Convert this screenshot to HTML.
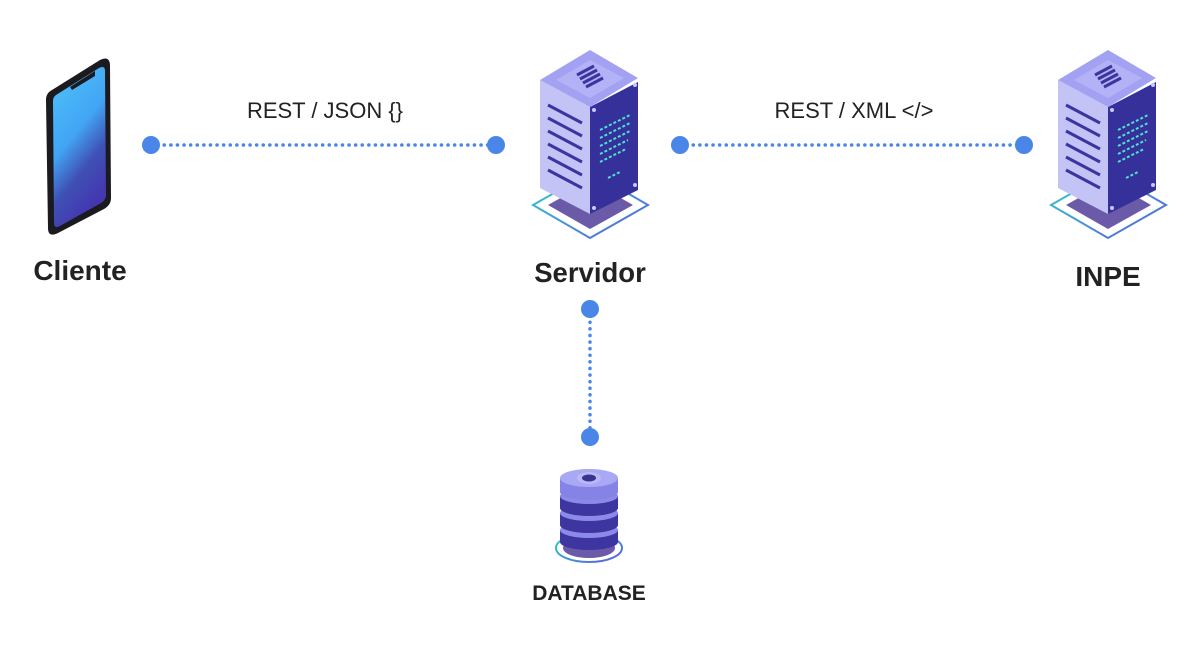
<!DOCTYPE html>
<html><head><meta charset="utf-8"><style>
html,body{margin:0;padding:0;background:#fff;}
svg{display:block;}
text{font-family:"Liberation Sans",Arial,sans-serif;}
</style></head><body>
<svg width="1200" height="650" viewBox="0 0 1200 650" xmlns="http://www.w3.org/2000/svg">
<defs>
<linearGradient id="scr" x1="0" y1="0" x2="0.4" y2="1">
<stop offset="0" stop-color="#4fc3f7"/><stop offset="0.5" stop-color="#42a5f5"/><stop offset="0.75" stop-color="#3f51b5"/><stop offset="1" stop-color="#4338b0"/>
</linearGradient>
<linearGradient id="cy" x1="0" y1="0" x2="1" y2="1"><stop offset="0" stop-color="#2dd4c8"/><stop offset="1" stop-color="#5b5be0"/></linearGradient>
<g id="srv">
<polygon points="533,205 590,238 648,205 591,172" fill="none" stroke="url(#cy)" stroke-width="2"/>
<polygon points="548,205 590,229 633,205 591,181" fill="#6a5aa8"/>
<polygon points="540,80 590,107 590,214 540,188" fill="#c4c3f6"/>
<polygon points="590,107 638,82 638,190 590,214" fill="#35309a"/>
<polygon points="540,80 590,50 638,78 590,107" fill="#a3a2f2"/>
<polygon points="556,80 590,60 624,78 590,98" fill="#b3b2f6"/>
<g stroke="#3b35a0" stroke-width="3">
<line x1="577" y1="75" x2="594" y2="66"/><line x1="580" y1="79" x2="597" y2="70"/><line x1="583" y1="83" x2="600" y2="74"/><line x1="586" y1="87" x2="603" y2="78"/>
<line x1="548" y1="105" x2="582" y2="123"/><line x1="548" y1="118" x2="582" y2="136"/><line x1="548" y1="131" x2="582" y2="149"/><line x1="548" y1="144" x2="582" y2="162"/><line x1="548" y1="157" x2="582" y2="175"/><line x1="548" y1="170" x2="582" y2="188"/>
</g>
<g stroke="#4fe0d0" stroke-width="2" stroke-dasharray="3 2">
<line x1="600" y1="130" x2="630" y2="115"/><line x1="600" y1="138" x2="630" y2="123"/><line x1="600" y1="146" x2="630" y2="131"/><line x1="600" y1="154" x2="628" y2="140"/><line x1="600" y1="162" x2="626" y2="149"/><line x1="608" y1="178" x2="620" y2="172"/>
</g>
<circle cx="594" cy="110" r="2" fill="#c9c8ff"/><circle cx="635" cy="85" r="2" fill="#c9c8ff"/><circle cx="594" cy="208" r="2" fill="#c9c8ff"/><circle cx="635" cy="185" r="2" fill="#c9c8ff"/>
</g>
</defs>

<path d="M52,90 L100,60 Q110,55 110,66 L111,198 Q111,205 104,209 L58,233 Q48,238 48,228 L46,100 Q46,93 52,90 Z" fill="#1a1a1f"/>
<path d="M56,95 L99,68 Q105,65 105,71 L106,195 Q106,200 101,203 L60,226 Q54,229 54,223 L53,101 Q53,97 56,95 Z" fill="url(#scr)"/>
<polygon points="70,87 95,71 95,76 72,90" fill="#1a1a1f"/>

<use href="#srv"/>
<use href="#srv" transform="translate(518,0)"/>

<g stroke="#4a86e8" stroke-width="3.5" stroke-dasharray="0.1 6.5" stroke-linecap="round">
<line x1="151" y1="145" x2="496" y2="145"/>
<line x1="680" y1="145" x2="1024" y2="145"/>
<line x1="590" y1="309" x2="590" y2="437"/>
</g>
<g fill="#4a86e8">
<circle cx="151" cy="145" r="9"/><circle cx="496" cy="145" r="9"/>
<circle cx="680" cy="145" r="9"/><circle cx="1024" cy="145" r="9"/>
<circle cx="590" cy="309" r="9"/><circle cx="590" cy="437" r="9"/>
</g>

<ellipse cx="589" cy="548" rx="33" ry="14" fill="none" stroke="url(#cy)" stroke-width="2"/>
<ellipse cx="589" cy="548" rx="26" ry="10" fill="#6a5aa8"/>
<g>
<rect x="560" y="530" width="58" height="12" fill="#3d36a0"/><ellipse cx="589" cy="542" rx="29" ry="8" fill="#3d36a0"/><ellipse cx="589" cy="530" rx="29" ry="8" fill="#8b8ae8"/>
<rect x="560" y="513" width="58" height="12" fill="#3d36a0"/><ellipse cx="589" cy="525" rx="29" ry="8" fill="#3d36a0"/><ellipse cx="589" cy="513" rx="29" ry="8" fill="#8b8ae8"/>
<rect x="560" y="496" width="58" height="12" fill="#3d36a0"/><ellipse cx="589" cy="508" rx="29" ry="8" fill="#3d36a0"/><ellipse cx="589" cy="496" rx="29" ry="8" fill="#8b8ae8"/>
<rect x="560" y="478" width="58" height="14" fill="#8584e6"/><ellipse cx="589" cy="492" rx="29" ry="8" fill="#8584e6"/><ellipse cx="589" cy="478" rx="29" ry="9" fill="#a9a8f4"/>
<ellipse cx="589" cy="478" rx="12" ry="6" fill="#b9b8f8"/><ellipse cx="589" cy="478" rx="7" ry="3.5" fill="#3a3390"/>
</g>

<g fill="#222" font-size="22" text-anchor="middle">
<text x="325" y="118">REST / JSON {}</text>
<text x="854" y="118">REST / XML &lt;/&gt;</text>
</g>
<g fill="#222" font-weight="bold" text-anchor="middle">
<text x="80" y="280" font-size="28">Cliente</text>
<text x="590" y="282" font-size="27.5">Servidor</text>
<text x="1108" y="286" font-size="28">INPE</text>
</g>
<text x="589" y="600" fill="#222" font-weight="bold" font-size="21" text-anchor="middle">DATABASE</text>
</svg>
</body></html>
